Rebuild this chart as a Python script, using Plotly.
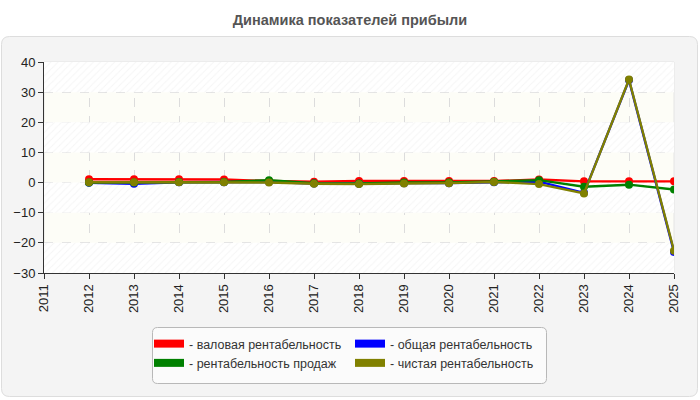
import plotly.graph_objects as go

# ---- data ----
years = list(range(2012, 2026))
gross = [1.1, 1.1, 1.1, 1.0, 0.5, 0.3, 0.5, 0.5, 0.5, 0.5, 1.0, 0.4, 0.4, 0.4]
total = [-0.1, -0.4, 0.1, 0.1, 0.2, -0.3, -0.4, -0.2, -0.2, 0.1, 0.3, -3.4, 34.0, -23.0]
sales = [0.0, 0.0, 0.2, 0.2, 0.8, -0.2, -0.3, 0.0, 0.0, 0.3, 0.8, -1.4, -0.7, -2.3]
net = [0.1, 0.1, 0.1, 0.1, 0.0, -0.4, -0.5, -0.3, -0.2, 0.2, -0.5, -3.6, 34.2, -22.6]
series_names = ["- валовая рентабельность", "- общая рентабельность",
                "- рентабельность продаж", "- чистая рентабельность"]
title_text = "Динамика показателей прибыли"

# ---- style / geometry ----
W, H = 700, 400
PL, PR, PT, PB = 44, 674, 62, 273
FONT = "Liberation Sans, Arial, sans-serif"


def px_x(px):
    return (px - PL) / (PR - PL)


def px_y(py):
    return (PB - py) / (PB - PT)


def rounded_path(x0, y0, x1, y1, r):
    pts = [
        f"M{px_x(x0 + r)},{px_y(y0)}",
        f"L{px_x(x1 - r)},{px_y(y0)}",
        f"Q{px_x(x1)},{px_y(y0)} {px_x(x1)},{px_y(y0 + r)}",
        f"L{px_x(x1)},{px_y(y1 - r)}",
        f"Q{px_x(x1)},{px_y(y1)} {px_x(x1 - r)},{px_y(y1)}",
        f"L{px_x(x0 + r)},{px_y(y1)}",
        f"Q{px_x(x0)},{px_y(y1)} {px_x(x0)},{px_y(y1 - r)}",
        f"L{px_x(x0)},{px_y(y0 + r)}",
        f"Q{px_x(x0)},{px_y(y0)} {px_x(x0 + r)},{px_y(y0)}",
        "Z",
    ]
    return " ".join(pts)


fig = go.Figure()

# hatched background bands (decoration)
hatch_bases = [30, 10, -10, -30]
fig.add_trace(go.Bar(
    x=[2018] * len(hatch_bases), y=[10] * len(hatch_bases), base=hatch_bases,
    width=14, showlegend=False, hoverinfo="skip",
    marker=dict(color="rgba(0,0,0,0)", line=dict(width=0),
                pattern=dict(shape="/", fgcolor="#ececec", bgcolor="rgba(255,255,255,1)",
                             size=5, solidity=0.2, fillmode="overlay")),
))

colors = ["#ff0000", "#0000ff", "#008000", "#808000"]
values = [gross, total, sales, net]
legends = ["legend", "legend2", "legend", "legend2"]
for name, vals, col in zip(series_names, values, colors):
    fig.add_trace(go.Scatter(
        x=years, y=vals, mode="lines+markers", name=name, showlegend=False,
        line=dict(color=col, width=2.4), marker=dict(color=col, size=8),
    ))
# legend entries
for name, col, lg in zip(series_names, colors, legends):
    fig.add_trace(go.Scatter(
        x=[None], y=[None], mode="lines", name=name, legend=lg,
        line=dict(color=col, width=8),
    ))

shapes = [
    dict(type="path", xref="paper", yref="paper", layer="below",
         path=rounded_path(1.5, 36.5, 697.5, 396.5, 8),
         fillcolor="#f4f4f4", line=dict(color="#dddddd", width=1)),
    dict(type="rect", xref="paper", yref="paper", layer="below",
         x0=0, x1=1, y0=0, y1=1,
         fillcolor="#fdfdf7", line=dict(color="#e4e4e4", width=1)),
    dict(type="path", xref="paper", yref="paper", layer="below",
         path=rounded_path(152.5, 327.5, 546.5, 383.5, 5),
         fillcolor="#fbfbfb", line=dict(color="#b8b8b8", width=1)),
]

legend_font = dict(family=FONT, size=12.5, color="#333333")
fig.update_layout(
    width=W, height=H,
    margin=dict(l=PL, r=W - PR, t=PT, b=H - PB, pad=0),
    paper_bgcolor="white", plot_bgcolor="rgba(0,0,0,0)",
    barmode="overlay",
    title=dict(text=f"<b>{title_text}</b>", x=0.5, xanchor="center",
               y=1 - 20 / H, yanchor="middle",
               font=dict(family=FONT, size=14.5, color="#555555")),
    font=dict(family=FONT, size=13, color="#222222"),
    shapes=shapes,
    showlegend=True,
    legend=dict(x=px_x(149), xanchor="left", y=px_y(329), yanchor="top",
                bgcolor="rgba(0,0,0,0)", borderwidth=0, itemwidth=30,
                tracegroupgap=0, font=legend_font),
    legend2=dict(x=px_x(350), xanchor="left", y=px_y(329), yanchor="top",
                 bgcolor="rgba(0,0,0,0)", borderwidth=0, itemwidth=30,
                 tracegroupgap=0, font=legend_font),
)

axis_common = dict(showgrid=True, gridcolor="#dcdcdc", griddash="dash", gridwidth=1,
                   showline=True, linecolor="#333333", linewidth=1,
                   ticks="outside", ticklen=5, tickcolor="#333333",
                   zeroline=False, tickfont=dict(family=FONT, size=13, color="#222222"))
fig.update_xaxes(range=[2011, 2025], dtick=1, tick0=2011, tickangle=-90, **axis_common)
fig.update_yaxes(range=[-30, 40], dtick=10, tick0=0, **axis_common)

fig.write_html("out.html")
